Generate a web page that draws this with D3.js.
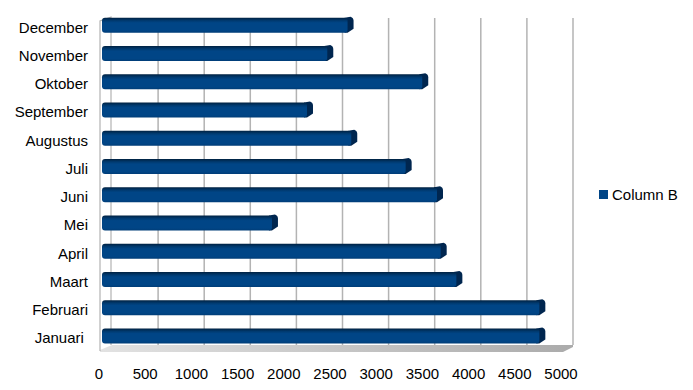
<!DOCTYPE html>
<html><head><meta charset="utf-8">
<script src="https://cdn.jsdelivr.net/npm/d3@7"></script>
<style>body{margin:0;background:#fff}svg{display:block}text{font-family:"Liberation Sans",Arial,sans-serif;white-space:pre}</style>
</head><body>
<svg id="c" width="693" height="390"></svg>
<script>
const categories = ["Januari ","Februari","Maart","April","Mei","Juni","Juli","Augustus","September","Oktober","November","December"];
const values = [4700,4700,3800,3630,1800,3590,3250,2660,2180,3430,2400,2620];
const ticks = [0,500,1000,1500,2000,2500,3000,3500,4000,4500,5000];
const seriesName = "Column B";

const svg = d3.select("#c");
const defs = svg.append("defs");
const xBack = d3.scaleLinear().domain([0,5000]).range([112,573]);
const xFront = d3.scaleLinear().domain([0,5000]).range([99,561]);
const y = d3.scaleBand().domain(categories).range([350,11]);

// gradients
const gFace = defs.append("linearGradient").attr("id","gf").attr("x1",0).attr("y1",0).attr("x2",0).attr("y2",1);
gFace.append("stop").attr("offset","0").attr("stop-color","#00203f");
gFace.append("stop").attr("offset","0.2").attr("stop-color","#003a70");
gFace.append("stop").attr("offset","0.35").attr("stop-color","#004586");
gFace.append("stop").attr("offset","0.85").attr("stop-color","#004586");
gFace.append("stop").attr("offset","1").attr("stop-color","#003d78");
const gFloor = defs.append("linearGradient").attr("id","gfl").attr("x1",0).attr("y1",0).attr("x2",1).attr("y2",0);
gFloor.append("stop").attr("offset","0").attr("stop-color","#e2e2e2");
gFloor.append("stop").attr("offset","1").attr("stop-color","#ababab");

// floor
svg.append("path").attr("fill","url(#gfl)")
  .attr("d",`M${xBack(0)},345 L${xBack(5000)},345 L${xBack(5000)},347 L${xFront(5000)+2},352 L${xFront(0)+1},352 L${xFront(0)+1},350 Z`);

// gridlines on back wall
svg.append("g").selectAll("line").data(ticks.slice(1)).join("line")
  .attr("x1",d=>xBack(d)).attr("x2",d=>xBack(d)).attr("y1",18).attr("y2",345)
  .attr("stroke","#b3b3b3").attr("stroke-width",1.5);

// left wall outline
svg.append("path").attr("fill","none").attr("stroke","#b3b3b3").attr("stroke-width",1.2)
  .attr("d",`M${xFront(0)+1},351 L${xFront(0)+1},21 L${xBack(0)-1},17 L${xBack(0)-1},345`);

// bars
const bh = 15;
const bars = svg.append("g").selectAll("g").data(categories).join("g");
bars.each(function(cat,i){
  const g = d3.select(this);
  const c = y(cat) + y.bandwidth()/2;
  const x0 = 102, xe = xBack(values[i]) - 6;
  const top = c - bh/2;
  g.append("path").attr("fill","#00264f")
    .attr("d",`M${xe-3},${top} L${xe+3},${top-1} Q${xe+6},${top} ${xe+6},${top+3} L${xe+6},${top+bh-4} L${xe},${top+bh} L${xe-3},${top+bh} Z`);
  g.append("rect").attr("x",x0).attr("y",top).attr("width",xe-x0).attr("height",bh)
    .attr("rx",3).attr("fill","url(#gf)");
});

// x tick labels
svg.append("g").selectAll("text").data(ticks).join("text")
  .attr("x",d=>xFront(d)).attr("y",379).attr("text-anchor","middle")
  .attr("font-size",15).attr("fill","#000").text(d=>d);

// category labels
svg.append("g").selectAll("text").data(categories).join("text")
  .attr("x",88).attr("y",d=>y(d)+y.bandwidth()/2+7.5).attr("text-anchor","end")
  .attr("font-size",15).attr("fill","#000").text(d=>d);

// legend
svg.append("rect").attr("x",599).attr("y",190).attr("width",9).attr("height",9).attr("fill","#004586");
svg.append("text").attr("x",612).attr("y",200).attr("font-size",15).attr("fill","#000").text(seriesName);
</script>
</body></html>
